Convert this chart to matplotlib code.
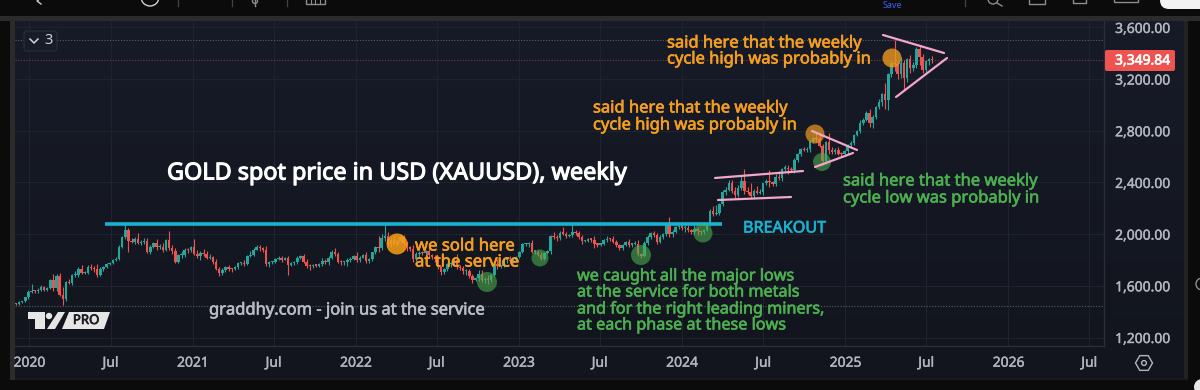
import numpy as np
import pandas as pd
import matplotlib
matplotlib.use("Agg")
import matplotlib.pyplot as plt
import matplotlib.dates as mdates
import matplotlib.patheffects as pe
from matplotlib.patches import Circle, Polygon, Rectangle, FancyBboxPatch, RegularPolygon

plt.rcParams['font.family'] = ['Noto Sans', 'DejaVu Sans']

# ---------- data ----------
first_week = "2019-12-02"
first_open = 1465
closes = [
 1460,1476,1479,1511,1552,1562,1557,1571,1589,1570,
 1584,1644,1586,1673,1530,1498,1627,1620,1683,1683,
 1727,1700,1703,1743,1735,1730,1684,1730,1743,1771,
 1775,1798,1808,1902,1975,2035,1944,1940,1964,1934,
 1940,1950,1862,1899,1930,1900,1902,1878,1951,1889,
 1871,1788,1838,1839,1881,1877,1898,1850,1828,1856,
 1847,1814,1823,1784,1734,1700,1720,1745,1732,1729,
 1744,1777,1777,1769,1831,1838,1881,1904,1892,1879,
 1769,1781,1783,1808,1812,1802,1814,1763,1779,1781,
 1816,1828,1787,1754,1751,1761,1757,1767,1793,1783,
 1818,1865,1846,1788,1783,1784,1798,1808,1829,1797,
 1817,1835,1791,1808,1859,1898,1889,1970,1988,1921,
 1958,1925,1945,1975,1934,1897,1883,1811,1846,1853,
 1851,1871,1840,1826,1811,1742,1708,1727,1766,1775,
 1802,1747,1738,1712,1717,1675,1644,1661,1695,1644,
 1656,1644,1681,1769,1751,1754,1797,1797,1793,1798,
 1824,1865,1920,1926,1928,1865,1865,1842,1811,1855,
 1867,1988,1978,1969,2007,2004,1982,1990,2017,2011,
 1977,1946,1948,1961,1958,1921,1919,1925,1955,1962,
 1959,1943,1914,1889,1915,1940,1919,1924,1925,1849,
 1833,1932,1981,2006,1992,1940,1981,2001,2072,2004,
 2020,2053,2062,2045,2049,2029,2018,2039,2024,2013,
 2035,2083,2179,2156,2165,2233,2329,2344,2392,2337,
 2301,2360,2415,2333,2327,2293,2333,2321,2326,2392,
 2411,2400,2387,2443,2431,2507,2512,2503,2497,2577,
 2622,2658,2653,2656,2721,2747,2737,2684,2563,2715,
 2650,2633,2648,2622,2621,2640,2690,2703,2771,2799,
 2861,2883,2936,2858,2910,2984,3023,3085,3037,3237,
 3327,3319,3241,3325,3205,3357,3289,3310,3433,3368,
 3274,3337,3355,3349.84,
]
upper_wick = [
 5,8,6,4,12,49,8,14,14,12,
 8,5,45,20,30,60,10,25,8,30,
 20,35,12,20,25,15,40,18,10,8,
 12,10,12,12,10,40,12,25,12,45,
 18,22,18,15,12,30,20,32,8,70,
 25,20,12,30,15,15,8,61,25,15,
 28,25,20,10,25,15,20,10,15,8,
 10,6,10,20,8,30,10,12,15,12,
 30,10,12,10,18,18,10,15,8,10,
 15,8,15,20,15,8,10,8,20,15,
 10,12,25,15,10,8,15,12,10,35,
 10,8,28,10,5,10,85,30,82,30,
 15,25,10,24,15,15,15,35,12,15,
 18,5,40,10,15,20,12,12,10,12,
 12,45,15,12,10,15,15,8,25,25,
 10,25,8,10,35,8,10,18,35,15,
 10,8,12,8,8,28,15,15,20,5,
 10,6,25,15,20,45,10,12,55,15,
 12,15,10,8,12,25,10,8,8,20,
 10,30,15,10,8,5,25,10,20,30,
 8,15,15,10,15,15,10,8,3,63,
 15,8,10,18,20,25,10,30,20,10,
 5,5,15,40,60,8,10,20,30,25,
 25,18,35,93,30,65,15,40,20,5,
 15,83,10,20,45,5,20,20,15,15,
 8,5,15,20,8,8,45,50,10,5,
 70,25,20,30,12,8,5,15,5,10,
 25,15,20,35,15,5,20,8,85,10,
 10,173,20,45,20,6,30,25,18,20,
 30,10,12,25,
]
lower_wick = [
 12,8,10,5,12,10,15,10,8,8,
 12,10,23,25,12,47,15,8,15,15,
 15,10,10,10,10,20,12,10,12,5,
 10,6,8,8,8,15,82,10,20,8,
 20,15,10,15,10,25,15,20,10,8,
 25,15,10,22,15,20,15,15,15,30,
 15,10,10,15,15,25,15,15,15,20,
 8,10,15,12,8,10,10,5,20,20,
 15,20,15,10,10,15,5,79,10,15,
 15,12,12,15,25,15,15,12,10,12,
 25,10,15,12,25,25,30,12,10,15,
 15,5,15,12,15,10,25,10,25,15,
 20,10,20,10,20,25,10,25,20,20,
 10,30,15,15,25,15,28,15,15,20,
 12,15,15,20,25,15,20,8,25,15,
 20,30,15,5,20,15,5,20,15,15,
 5,5,8,10,25,10,15,15,10,12,
 12,20,15,25,15,8,15,8,10,15,
 15,25,10,10,15,25,15,10,10,15,
 10,10,15,15,8,8,20,15,10,15,
 20,10,15,15,15,20,10,15,15,25,
 25,15,10,15,25,15,15,15,30,20,
 15,10,20,15,10,20,15,25,10,20,
 20,10,15,25,20,15,15,10,10,20,
 15,35,15,15,10,20,15,35,10,20,
 15,15,12,15,20,15,20,12,26,20,
 30,15,15,10,20,12,20,15,15,10,
 15,15,10,25,35,15,15,30,67,80,
 20,59,40,30,85,25,45,30,25,55,
 25,30,25,25,
]
price_ticks = [1200, 1600, 2000, 2400, 2800, 3200, 3600]
time_ticks = ["2020-01-01","2020-07-01","2021-01-01","2021-07-01","2022-01-01","2022-07-01",
              "2023-01-01","2023-07-01","2024-01-01","2024-07-01","2025-01-01","2025-07-01",
              "2026-01-01","2026-07-01"]
time_labels = ["2020","Jul","2021","Jul","2022","Jul","2023","Jul","2024","Jul","2025","Jul","2026","Jul"]
last_price = 3349.84
cycle_high = 3500
range_low = 1443

closes = np.array(closes, float)
upper_wick = np.array(upper_wick, float)
lower_wick = np.array(lower_wick, float)
opens = np.r_[first_open, closes[:-1]]
weeks = mdates.date2num(pd.date_range(first_week, periods=len(closes), freq="7D"))
top = np.maximum(opens, closes)
bot = np.minimum(opens, closes)
UP, DOWN = "#26a69a", "#ef5350"
colors = np.where(closes >= opens, UP, DOWN)

# ---------- figure and pixel overlay ----------
fig = plt.figure(figsize=(12, 3.9), dpi=100, facecolor="#0b0b0c")

def px_axes(z):
    a = fig.add_axes([0, 0, 1, 1], zorder=z)
    a.set_xlim(0, 1200); a.set_ylim(390, 0); a.axis("off")
    a.patch.set_alpha(0)
    return a

back = px_axes(0)
over = px_axes(3)

# window chrome
back.add_patch(Rectangle((0, 16), 1200, 5, color="#2b2b2c", lw=0))
back.add_patch(Rectangle((10, 16), 5, 364, color="#2b2b2c", lw=0))
back.add_patch(Rectangle((1184, 21), 4, 359, color="#232325", lw=0))
back.add_patch(Rectangle((15, 378), 1173, 2, color="#1b1b1d", lw=0))
grad = np.linspace(0, 1, 64)[:, None, None]
c0 = np.array([23, 27, 40]) / 255
c1 = np.array([18, 21, 29]) / 255
back.imshow(c0 * (1 - grad) + c1 * grad, extent=[15, 1184, 378, 21], aspect="auto", zorder=0.5)
back.set_xlim(0, 1200); back.set_ylim(390, 0)

# ---------- candlestick axes ----------
ax = fig.add_axes([15 / 1200, 1 - 346 / 390, (1104 - 15) / 1200, (346 - 21) / 390], zorder=2)
ax.patch.set_alpha(0)
x_left = mdates.date2num(np.datetime64("2019-11-30"))
ax.set_xlim(x_left, x_left + 1089 / 0.4467)
ax.set_ylim(1200 + (337.5 - 346) * 7.74, 1200 + (337.5 - 21) * 7.74)
ax.yaxis.tick_right()
ax.set_yticks(price_ticks)
ax.set_yticklabels([f"{p:,.2f}" for p in price_ticks])
ax.set_xticks(mdates.date2num(pd.to_datetime(time_ticks)))
ax.set_xticklabels(time_labels)
ax.tick_params(axis="both", length=0, colors="#b2b5be", labelsize=10)
ax.tick_params(axis="y", pad=8)
ax.tick_params(axis="x", pad=7)
for t in ax.get_xticklabels() + ax.get_yticklabels():
    t.set_path_effects([pe.withStroke(linewidth=0.3, foreground="#b2b5be")])
ax.grid(True, color="#1f2330", lw=0.8)
ax.set_axisbelow(True)
for s in ax.spines.values():
    s.set_visible(False)
for sp in ("right", "bottom"):
    ax.spines[sp].set_visible(True)
    ax.spines[sp].set_color("#2a2e39")
    ax.spines[sp].set_linewidth(1)

ax.axhline(cycle_high, color="#5a5d66", lw=0.8, ls=(0, (1, 1.5)), zorder=1)
ax.axhline(range_low, color="#5a5d66", lw=0.8, ls=(0, (1, 1.5)), zorder=1)
ax.axhline(last_price, color="#7c3a42", lw=0.8, ls=(0, (1, 1.5)), zorder=1)

ax.vlines(weeks, bot - lower_wick, top + upper_wick, colors=colors, lw=0.8, zorder=2)
ax.bar(weeks, np.maximum(top - bot, 9), bottom=bot, width=5.6, color=colors, lw=0, zorder=3)

# ---------- price tag ----------
over.add_patch(FancyBboxPatch((1107, 52), 66, 17, boxstyle="round,pad=2,rounding_size=2",
                              fc="#ef5350", ec="none"))
over.text(1170, 61, "3,349.84", color="white", fontsize=10, ha="right", va="center",
          path_effects=[pe.withStroke(linewidth=0.5, foreground="white")])

# ---------- drawn annotations ----------
CYAN = "#19b3d1"; PINK = "#f3a6c9"; ORANGE = "#f59e1e"; GREEN = "#4caf50"
over.plot([105, 722], [224, 224], color=CYAN, lw=2.6, solid_capstyle="butt")
for xs, ys in [((883, 944), (35, 53)), ((896, 947), (97, 58)),
               ((812, 857), (131, 150)), ((815, 853), (167, 153)),
               ((715, 803), (178, 171)), ((718, 791), (200, 197))]:
    over.plot(xs, ys, color=PINK, lw=1.6, solid_capstyle="round", zorder=4)

for cx, cy, r, col, al in [(397, 244, 10.5, "#fb9f15", 0.85), (815, 134, 9.5, "#e8981e", 0.72),
                           (892, 58, 9.5, "#e8981e", 0.82),
                           (487, 282, 10, GREEN, 0.58), (540, 258, 8.5, GREEN, 0.58),
                           (641, 255, 10, GREEN, 0.58), (703, 233, 9.5, GREEN, 0.58),
                           (822, 162, 9, GREEN, 0.58)]:
    over.add_patch(Circle((cx, cy), r, fc=col, ec="none", alpha=al, zorder=3))

def label(x, y, s, c, size, stroke=0.45):
    over.text(x, y + 1.5, s, color=c, fontsize=size, ha="left", va="center", zorder=5,
              path_effects=[pe.withStroke(linewidth=stroke, foreground=c)])

label(167, 172, "GOLD spot price in USD (XAUUSD), weekly", "white", 16.85, 0.8)
label(667, 42, "said here that the weekly", ORANGE, 11.9)
label(667, 58, "cycle high was probably in", ORANGE, 11.9)
label(593, 107, "said here that the weekly", ORANGE, 11.9)
label(593, 124, "cycle high was probably in", ORANGE, 11.9)
label(843, 180, "said here that the weekly", GREEN, 11.9)
label(843, 197, "cycle low was probably in", GREEN, 11.9)
label(743, 227, "BREAKOUT", CYAN, 11.6)
label(415, 245, "we sold here", ORANGE, 12)
label(415, 261, "at the service", ORANGE, 12)
label(577, 275, "we caught all the major lows", GREEN, 11.65)
label(577, 291, "at the service for both metals", GREEN, 11.65)
label(577, 308, "and for the right leading miners,", GREEN, 11.65)
label(577, 324, "at each phase at these lows", GREEN, 11.65)
label(209, 309, "graddhy.com - join us at the service", "#b9bcc4", 11.9)

# ---------- TradingView badge ----------
LOGO = "#e6e6e6"
over.add_patch(Polygon([(28, 312), (45, 312), (45, 329), (35, 329), (35, 319), (28, 319)], fc=LOGO, ec="none"))
over.add_patch(Circle((49, 316), 3.2, fc=LOGO, ec="none"))
over.add_patch(Polygon([(58, 312), (65, 312), (55, 329), (47, 329)], fc=LOGO, ec="none"))
over.add_patch(Polygon([(69, 312), (110, 312), (104, 329), (62, 329)], fc=LOGO, ec="none"))
over.text(86, 320.5, "PRO", color="#1b1d24", fontsize=9.5, ha="center", va="center",
          path_effects=[pe.withStroke(linewidth=0.5, foreground="#1b1d24")])

# ---------- collapse button ----------
over.add_patch(FancyBboxPatch((24, 31), 33, 20, boxstyle="round,pad=0,rounding_size=3",
                              fc="#181c28", ec="#2a2e39", lw=0.8))
over.plot([30, 34, 38], [39, 43, 39], color="#d1d4dc", lw=1.1)
over.text(49, 41, "3", color="#d1d4dc", fontsize=10.5, ha="center", va="center")

# ---------- settings icon ----------
over.add_patch(RegularPolygon((1144, 363), 6, radius=8.5, orientation=np.pi / 2, fc="none", ec="#b2b5be", lw=1))
over.add_patch(Circle((1144, 363), 2.4, fc="none", ec="#b2b5be", lw=1))

# ---------- clipped toolbar remnants ----------
TOOL = "#8d8d8f"
over.add_patch(Circle((150, -3), 9, fc="none", ec="#d0d0d0", lw=1))
for x in (178, 232, 287, 965):
    over.plot([x, x], [0, 6], color="#444446", lw=0.9)
over.plot([255, 255], [0, 6], color=TOOL, lw=1)
over.add_patch(Circle((255, 1), 2.5, fc="none", ec=TOOL, lw=1))
over.add_patch(Rectangle((306, -3), 19, 7, fc="none", ec=TOOL, lw=1))
for x in (311, 315, 320):
    over.plot([x, x], [0, 4], color=TOOL, lw=0.8)
over.plot([41, 37, 41], [-2, 1, 4], color="#cfcfcf", lw=1)
over.text(892, 5, "Save", color="#3b63f0", fontsize=6.5, ha="center", va="center")
over.add_patch(Circle((993, -1), 5, fc="none", ec=TOOL, lw=1))
over.plot([997, 1002], [3, 6], color=TOOL, lw=1)
over.add_patch(Rectangle((1029, -3), 16, 7, fc="none", ec=TOOL, lw=1))
over.add_patch(Rectangle((1073, -3), 13, 6, fc="none", ec=TOOL, lw=1))
over.add_patch(Rectangle((1114, -3), 24, 5, fc="none", ec=TOOL, lw=1))
over.add_patch(FancyBboxPatch((1160, -20), 60, 29, boxstyle="round,pad=0,rounding_size=9", fc="#f2f2f2", ec="none"))
over.add_patch(Circle((1202, 387), 8, fc="#e8e8e8", ec="none"))
over.add_patch(Circle((1202, 284), 6, fc="none", ec="#8d8d8f", lw=1))

over.set_xlim(0, 1200); over.set_ylim(390, 0)
fig.savefig("out.png", dpi=100, facecolor=fig.get_facecolor())
